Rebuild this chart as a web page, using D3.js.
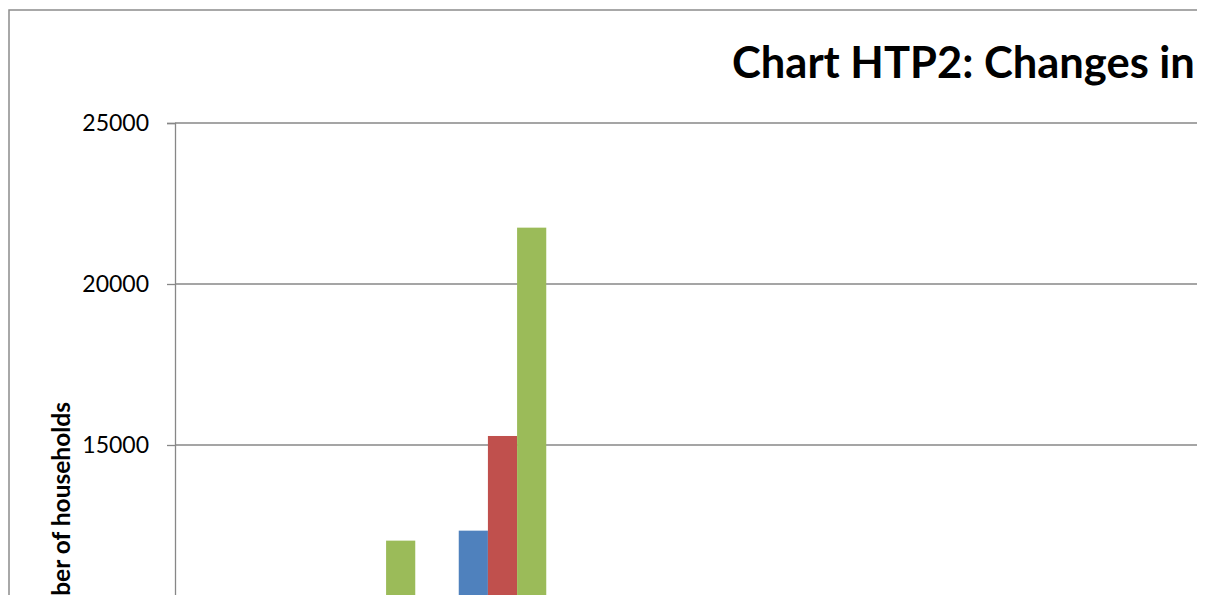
<!DOCTYPE html>
<html>
<head>
<meta charset="utf-8">
<script src="https://cdn.jsdelivr.net/npm/d3@7"></script>
<style>
  body { margin: 0; background: #fff; }
  svg { display: block; }
</style>
</head>
<body>
<div class="chart"></div>
<script>
// categories (only the first three are partly visible in the crop)
const categories = ['Type 1', 'Type 2', 'Type 3', 'Type 4', 'Type 5', 'Type 6', 'Type 7', 'Type 8'];
const seriesNames = ['Series 1', 'Series 2', 'Series 3'];
// values below ~10000 fall outside the visible area, so they are estimates
const series1 = [4200, 7600, 12340, 3100, 2600, 5200, 4100, 3300];
const series2 = [5100, 9000, 15280, 3600, 3000, 6100, 4700, 3900];
const series3 = [6300, 12030, 21750, 4300, 3500, 7400, 5600, 4600];
const yTicks = [0, 5000, 10000, 15000, 20000, 25000];

const W = 1211, H = 595;
const clipRight = 1197;

const data = categories.map((c, i) => ({
    category: c,
    values: [series1[i], series2[i], series3[i]]
}));

const svg = d3.select('.chart')
    .append('svg')
    .attr('width', W)
    .attr('height', H);

svg.append('clipPath').attr('id', 'clip')
    .append('rect')
    .attr('x', 0).attr('y', 0)
    .attr('width', clipRight).attr('height', H);

const g = svg.append('g').attr('clip-path', 'url(#clip)');

// outer chart border
g.append('rect')
    .attr('x', 9).attr('y', 10)
    .attr('width', 1400).attr('height', 900)
    .attr('fill', 'none')
    .attr('stroke', '#8c8c8c')
    .attr('stroke-width', 1.5);

const xScale = d3.scaleBand()
    .domain(categories)
    .range([175, 175 + 131 * categories.length]);

const gap = xScale.bandwidth() * 0.166;
const xInner = d3.scaleBand()
    .domain(seriesNames)
    .range([gap, xScale.bandwidth() - gap]);

const yScale = d3.scaleLinear()
    .domain([0, 25000])
    .range([928, 123]);

const color = d3.scaleOrdinal()
    .domain(seriesNames)
    .range(['#4f81bd', '#c0504d', '#9bbb59']);

// gridlines
g.append('g')
    .selectAll('line')
    .data(yTicks.filter(d => d > 0))
    .enter()
    .append('line')
    .attr('x1', 175)
    .attr('x2', 1400)
    .attr('y1', d => yScale(d))
    .attr('y2', d => yScale(d))
    .attr('stroke', '#878787')
    .attr('stroke-width', 1.3);

// bars
g.append('g')
    .selectAll('g')
    .data(data)
    .enter()
    .append('g')
    .attr('transform', d => 'translate(' + xScale(d.category) + ',0)')
    .selectAll('rect')
    .data(d => d.values.map((v, i) => ({key: seriesNames[i], value: v})))
    .enter()
    .append('rect')
    .attr('x', d => xInner(d.key))
    .attr('y', d => yScale(d.value))
    .attr('width', xInner.bandwidth())
    .attr('height', d => yScale(0) - yScale(d.value))
    .attr('fill', d => color(d.key));

// y axis
const yAxis = d3.axisLeft(yScale)
    .tickValues(yTicks)
    .tickSize(8)
    .tickPadding(18)
    .tickFormat(d3.format('d'));

const ax = g.append('g')
    .attr('transform', 'translate(175,0)')
    .call(yAxis);
ax.select('.domain').attr('stroke', '#878787').attr('stroke-width', 1.3);
ax.selectAll('.tick line').attr('stroke', '#878787').attr('stroke-width', 1.3);
ax.selectAll('.tick text')
    .attr('fill', '#000')
    .style('font-family', 'Lato, sans-serif')
    .style('font-size', '23px');

// title
g.append('text')
    .attr('x', 732)
    .attr('y', 78)
    .text('Chart HTP2: Changes in')
    .style('font-family', 'Lato, sans-serif')
    .style('font-weight', 'bold')
    .style('font-size', '43.5px');

// y axis label
g.append('text')
    .attr('transform', 'translate(70,402) rotate(-90)')
    .attr('text-anchor', 'end')
    .text('Number of households')
    .style('font-family', 'Lato, sans-serif')
    .style('font-weight', 'bold')
    .style('font-size', '24.5px');
</script>
</body>
</html>
